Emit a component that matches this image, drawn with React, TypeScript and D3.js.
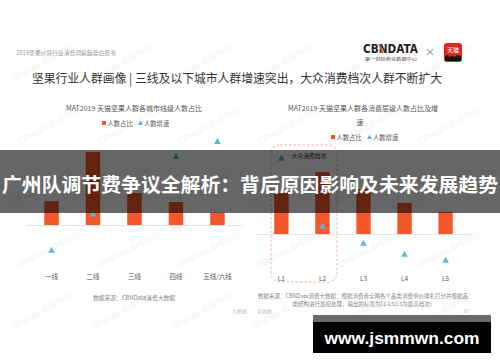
import React from "react";
import * as d3 from "d3";

// ---- data ----
const cityTiers = ["一线", "二线", "三线", "四线", "五线/六线"];
const cityShare = [14.5, 44.5, 19.5, 14, 7.5];
const cityGrowth = [-10, 4.5, 15.5, 27.5, 33.5];

const levelTiers = ["L1", "L2", "L3", "L4", "L5"];
const levelShare = [20.4, 30.8, 22.4, 15.4, 10.9];
const levelGrowth = [38, 4, -4.5, -10, -13];

const legendLabels = ["人数占比", "人数增速"];

const W = 500;
const H = 362;
const ORANGE = "#f4572a";
const BLUE = "#5bb8d8";
const CJK = "'Noto Sans CJK SC', 'Noto Sans', sans-serif";

function tri(cx: number, cy: number, s: number) {
  return `M${cx},${cy - s * 0.55} L${cx + s * 0.55},${cy + s * 0.45} L${cx - s * 0.55},${cy + s * 0.45} Z`;
}

function Chart(props: {
  cats: string[];
  share: number[];
  growth: number[];
  x0: number;
  x1: number;
  base: number;
  sharePx: number;
  growthPx: number;
  labelY: number;
}) {
  const { cats, share, growth, x0, x1, base, sharePx, growthPx, labelY } = props;
  const x = d3.scaleBand<string>().domain(cats).range([x0, x1]).paddingInner(0.65).paddingOuter(0.2);
  const yS = d3.scaleLinear().domain([0, 100]).range([base, base - 100 * sharePx]);
  const yG = d3.scaleLinear().domain([0, 40]).range([base, base - 40 * growthPx]);
  return (
    <g>
      <line x1={x0 - 10} x2={x1 + 10} y1={base + 0.5} y2={base + 0.5} stroke="#e3e3e3" strokeWidth={1} />
      {cats.map((c, i) => (
        <rect key={"b" + c} x={x(c)!} width={x.bandwidth()} y={yS(share[i])} height={base - yS(share[i])} fill={ORANGE} />
      ))}
      {cats.map((c, i) => (
        <path key={"t" + c} d={tri(x(c)! + x.bandwidth() / 2, yG(growth[i]), 6)} fill={BLUE} />
      ))}
      {cats.map((c) => (
        <text key={"l" + c} x={x(c)! + x.bandwidth() / 2} y={labelY} fontSize={6.5} fill="#555" textAnchor="middle" fontFamily={CJK} dominantBaseline="central">
          {c}
        </text>
      ))}
    </g>
  );
}

function Legend({ x, y }: { x: number; y: number }) {
  return (
    <g fontFamily={CJK} fontSize={6.3} fill="#555">
      <rect x={x} y={y - 2} width={4} height={4} fill={ORANGE} />
      <text x={x + 5.5} y={y} dominantBaseline="central">{legendLabels[0]}</text>
      <path d={tri(x + 38.5, y, 4.5)} fill={BLUE} />
      <text x={x + 42} y={y} dominantBaseline="central">{legendLabels[1]}</text>
    </g>
  );
}

export default function App() {
  const marks: [number, number][] = [];
  for (let r = 0; r < 5; r++) {
    for (let c = 0; c < 6; c++) {
      marks.push([12 + c * 80 + (r % 2) * 8, 82 + r * 62]);
    }
  }
  return (
    <svg width={W} height={H} style={{ position: "absolute", left: 0, top: 0, background: "#fff" }} xmlns="http://www.w3.org/2000/svg">
      <rect width={W} height={H} fill="#fff" />
      {/* watermarks */}
      <g fontFamily="'Open Sans', sans-serif" fontSize={8} fill="#efefef">
        {marks.map(([mx, my], i) => (
          <text key={i} x={mx} y={my} transform={`rotate(-28 ${mx} ${my})`}>CBNData ID:87922</text>
        ))}
      </g>

      {/* header */}
      <text x={16} y={52} fontSize={5.8} fill="#9a9a9a" fontFamily={CJK} dominantBaseline="central">2019坚果炒货行业消费洞察趋势白皮书</text>
      <text x={32} y={77} fontSize={12} fill="#333" fontFamily={CJK} dominantBaseline="central" textLength={410} lengthAdjust="spacingAndGlyphs">
        坚果行业人群画像 | 三线及以下城市人群增速突出，大众消费档次人群不断扩大
      </text>

      {/* logos */}
      <text x={363} y={48.5} fontSize={11.5} fontWeight={700} fill="#222" fontFamily="'DejaVu Sans', sans-serif" dominantBaseline="central" textLength={55} lengthAdjust="spacingAndGlyphs">CBNDATA</text>
      <line x1={379} y1={44} x2={383} y2={53} stroke="#f05a28" strokeWidth={1.6} />
      <text x={365} y={58.5} fontSize={4} fill="#444" fontFamily={CJK} dominantBaseline="central" textLength={52} lengthAdjust="spacingAndGlyphs">第一财经商业数据中心</text>
      <text x={430} y={51} fontSize={13} fill="#666" fontFamily="'DejaVu Sans', sans-serif" textAnchor="middle" dominantBaseline="central" fontWeight={300}>×</text>
      <rect x={444} y={43} width={18} height={19} rx={3} fill="#e1251b" />
      <text x={453} y={49.5} fontSize={6} fill="#fff" fontFamily={CJK} textAnchor="middle" dominantBaseline="central">天猫</text>
      <path d="M445,61 L445,56 L448,55 L449,57 L452,56 L455,57 L457,55 L461,56 L461,61 Z" fill="#111" />

      {/* left chart */}
      <text x={134} y={108} fontSize={7} fill="#555" fontFamily={CJK} textAnchor="middle" dominantBaseline="central">MAT2019 天猫坚果人群各城市线级人数占比</text>
      <Legend x={102} y={123} />
      <Chart cats={cityTiers} share={cityShare} growth={cityGrowth} x0={36} x1={233} base={225} sharePx={1.64} growthPx={2.5} labelY={276} />
      <text x={134} y={297} fontSize={5.8} fill="#888" fontFamily={CJK} textAnchor="middle" dominantBaseline="central">数据来源：CBNData消费大数据</text>

      {/* right chart */}
      <text x={363} y={108} fontSize={7} fill="#555" fontFamily={CJK} textAnchor="middle" dominantBaseline="central">MAT2019 天猫坚果人群各消费层级人数占比及增</text>
      <text x={360} y={122} fontSize={7} fill="#555" fontFamily={CJK} textAnchor="middle" dominantBaseline="central">速</text>
      <Legend x={331} y={137} />
      <rect x={271} y={145} width={66} height={137} rx={9} fill="none" stroke="#e9a08c" strokeWidth={0.8} strokeDasharray="2.5,2" />
      <text x={309} y={155} fontSize={5.8} fill="#333" fontFamily={CJK} textAnchor="middle" dominantBaseline="central">大众消费档次</text>
      <Chart cats={levelTiers} share={levelShare} growth={levelGrowth} x0={266} x1={461} base={234} sharePx={2.01} growthPx={2} labelY={278} />
      <text x={363} y={296} fontSize={5.5} fill="#888" fontFamily={CJK} textAnchor="middle" dominantBaseline="central">数据来源：CBNData消费大数据：根据消费者全网各个品类消费单价排名打分并根据品</text>
      <text x={362} y={304} fontSize={5.5} fill="#888" fontFamily={CJK} textAnchor="middle" dominantBaseline="central">类结构进行加权处理，输出的标签为L1-L5(L5为最高档次)</text>

      {/* page footer */}
      <text x={232} y={310} fontSize={5} fill="#bbb" fontFamily={CJK} dominantBaseline="central">大数据</text>
      <text x={257} y={310} fontSize={5} fill="#bbb" fontFamily={CJK} dominantBaseline="central">全国数</text>
      <text x={463} y={310} fontSize={5} fill="#bbb" fontFamily={CJK} dominantBaseline="central">16</text>

      {/* banner overlay */}
      <rect x={0} y={150} width={W} height={63} fill="rgba(0,0,0,0.6)" />
      <text x={2} y={183} fontSize={19.8} fontWeight={700} fill="#fff" fontFamily={CJK} dominantBaseline="central" textLength={496} lengthAdjust="spacingAndGlyphs">
        广州队调节费争议全解析：背后原因影响及未来发展趋势
      </text>

      {/* site footer */}
      <rect x={313} y={315} width={178} height={7} fill="#6a6a6a" />
      <rect x={313} y={322} width={178} height={31} fill="#000" />
      <text x={402} y={338} fontSize={17.4} fontWeight={700} fill="#fff" fontFamily="'Liberation Sans', Arial, sans-serif" textAnchor="middle" dominantBaseline="central">www.jsmmwn.com</text>
    </svg>
  );
}
